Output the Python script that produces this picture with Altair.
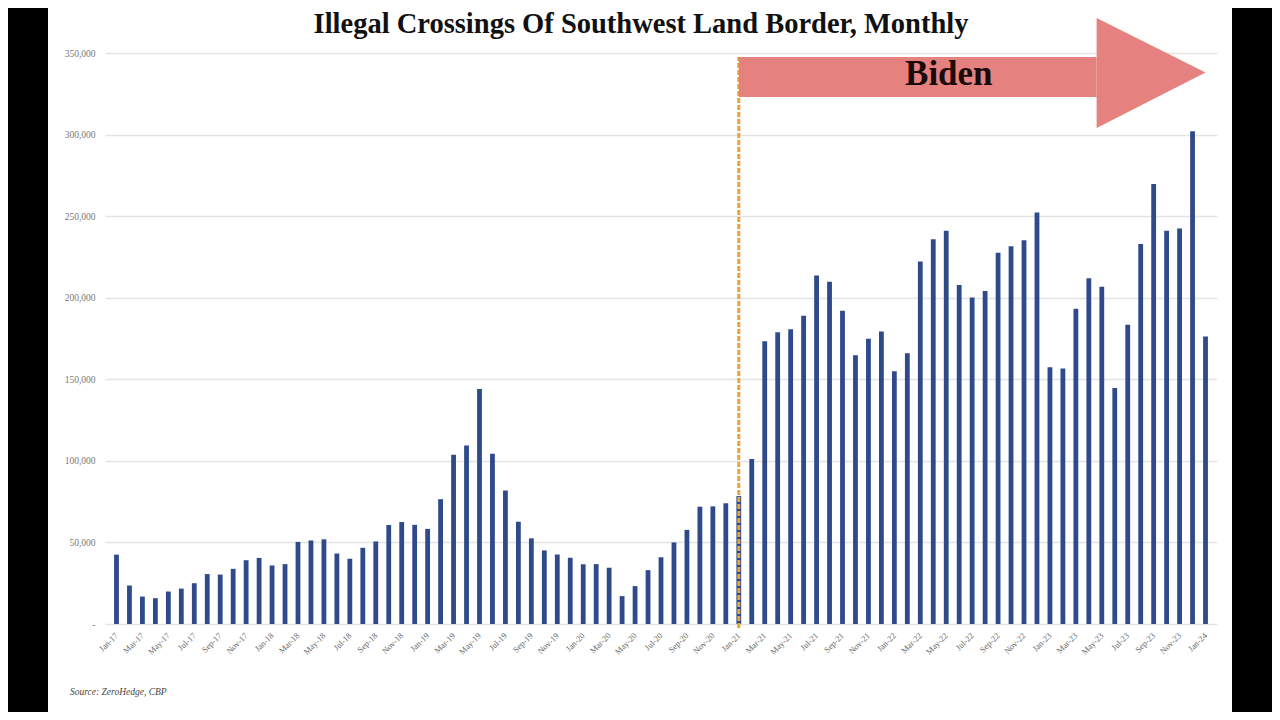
import altair as alt
import pandas as pd

# ---------------- data ----------------
month_names = ["Jan", "Feb", "Mar", "Apr", "May", "Jun",
               "Jul", "Aug", "Sep", "Oct", "Nov", "Dec"]
years = ["17", "18", "19", "20", "21", "22", "23", "24"]
months = [f"{m}-{y}" for y in years for m in month_names][:85]  # Jan-17 .. Jan-24

crossings = [
    # 2017
    42500, 23600, 16800, 15800, 19900, 21700, 25000, 30600, 30300, 33800, 39100, 40500,
    # 2018
    35900, 36700, 50300, 51200, 51900, 43200, 40000, 46700, 50600, 60700, 62500, 60800,
    # 2019
    58300, 76500, 103700, 109400, 144100, 104300, 81800, 62700, 52500, 45100, 42600, 40600,
    # 2020
    36600, 36700, 34500, 17100, 23200, 33000, 40900, 50000, 57700, 71900, 72100, 74000,
    # 2021
    78400, 101100, 173300, 178800, 180600, 189000, 213600, 209800, 192000, 164800, 174800, 179300,
    # 2022
    154900, 166000, 222200, 235800, 241100, 207800, 200200, 204100, 227500, 231500, 235200, 252300,
    # 2023
    157400, 156600, 193200, 212000, 206700, 144600, 183500, 233000, 269700, 241000, 242400, 302000,
    # 2024
    176200,
]

tick_positions = list(range(0, 85, 2))
tick_labels = [months[i] for i in tick_positions]
y_ticks = [0, 50000, 100000, 150000, 200000, 250000, 300000, 350000]

title_text = "Illegal Crossings Of Southwest Land Border, Monthly"
source_text = "Source: ZeroHedge, CBP"
annotation_text = "Biden"
biden_start = 48  # Jan-21

df = pd.DataFrame({"idx": list(range(len(crossings))), "month": months, "value": crossings})
ticks_df = pd.DataFrame({"idx": tick_positions, "label": tick_labels})

# ---------------- scales ----------------
x_scale = alt.Scale(domain=[-0.5, 84.5], nice=False, zero=False)
y_scale = alt.Scale(domain=[0, 350000], nice=False)

y_axis = alt.Axis(
    values=y_ticks,
    labelExpr="datum.value == 0 ? '-' : format(datum.value, ',')",
    labelFont="Liberation Serif", labelFontSize=9.5, labelColor="#777",
    labelPadding=10, ticks=False, domain=False,
    grid=True, gridColor="#e4e4e4", gridWidth=1.5, title=None,
)

bars = alt.Chart(df).mark_bar(size=4.8, color="#2E4A8A").encode(
    x=alt.X("idx:Q", scale=x_scale, axis=None),
    y=alt.Y("value:Q", scale=y_scale, axis=y_axis),
    tooltip=["month:N", "value:Q"],
)

# x tick labels (every second month, rotated)
x_labels = alt.Chart(ticks_df).mark_text(
    font="Liberation Serif", fontSize=8.5, color="#666",
    angle=315, align="right", baseline="middle",
).encode(x=alt.X("idx:Q", scale=x_scale, axis=None), y=alt.value(581), text="label:N")

rule_df = pd.DataFrame({"x": [biden_start], "y": [-2500], "y2": [347500]})
rule = alt.Chart(rule_df).mark_rule(color="#E8A535", strokeWidth=3, strokeDash=[5, 2]).encode(
    x="x:Q", y="y:Q", y2="y2:Q"
)

arrow_color = "#E5817F"
shaft_df = pd.DataFrame({"x": [biden_start], "x2": [75.6], "y": [323000], "y2": [347500]})
shaft = alt.Chart(shaft_df).mark_rect(color=arrow_color).encode(
    x="x:Q", x2="x2:Q", y="y:Q", y2="y2:Q"
)
head_df = pd.DataFrame({"x": [75.6, 84.0], "y": [371500, 338000], "y2": [304000, 338000]})
head = alt.Chart(head_df).mark_area(color=arrow_color, orient="vertical", interpolate="linear").encode(
    x="x:Q", y="y:Q", y2="y2:Q"
)

label_df = pd.DataFrame({"x": [64.2], "y": [337000], "t": [annotation_text]})
biden = alt.Chart(label_df).mark_text(
    font="Liberation Serif", fontSize=35, fontWeight="bold", color="#1a0a0a",
    align="center", baseline="middle",
).encode(x="x:Q", y="y:Q", text="t:N")

title = alt.Chart(pd.DataFrame({"t": [title_text]})).mark_text(
    font="Liberation Serif", fontSize=28.5, fontWeight="bold", color="#111",
    align="center", baseline="alphabetic",
).encode(x=alt.value(536), y=alt.value(-20), text="t:N")

source = alt.Chart(pd.DataFrame({"t": [source_text]})).mark_text(
    font="Liberation Serif", fontSize=9.5, fontStyle="italic", color="#444",
    align="left", baseline="middle",
).encode(x=alt.value(-35), y=alt.value(639), text="t:N")

# black side borders of the frame
left_border = alt.Chart(pd.DataFrame({"a": [0]})).mark_rect(color="black").encode(
    x=alt.value(-97), x2=alt.value(-57), y=alt.value(-45), y2=alt.value(659)
)
right_border = alt.Chart(pd.DataFrame({"a": [0]})).mark_rect(color="black").encode(
    x=alt.value(1127), x2=alt.value(1167), y=alt.value(-45), y2=alt.value(659)
)

chart = alt.layer(
    bars, x_labels, rule, shaft, head, biden, title, source, left_border, right_border
).properties(
    width=1112,
    height=571,
    autosize=alt.AutoSizeParams(type="none"),
    padding={"left": 97, "top": 45, "right": 55, "bottom": 88},
    background="white",
).configure_view(stroke=None)

chart.save("out.html", embed_options={"renderer": "svg", "actions": False})
